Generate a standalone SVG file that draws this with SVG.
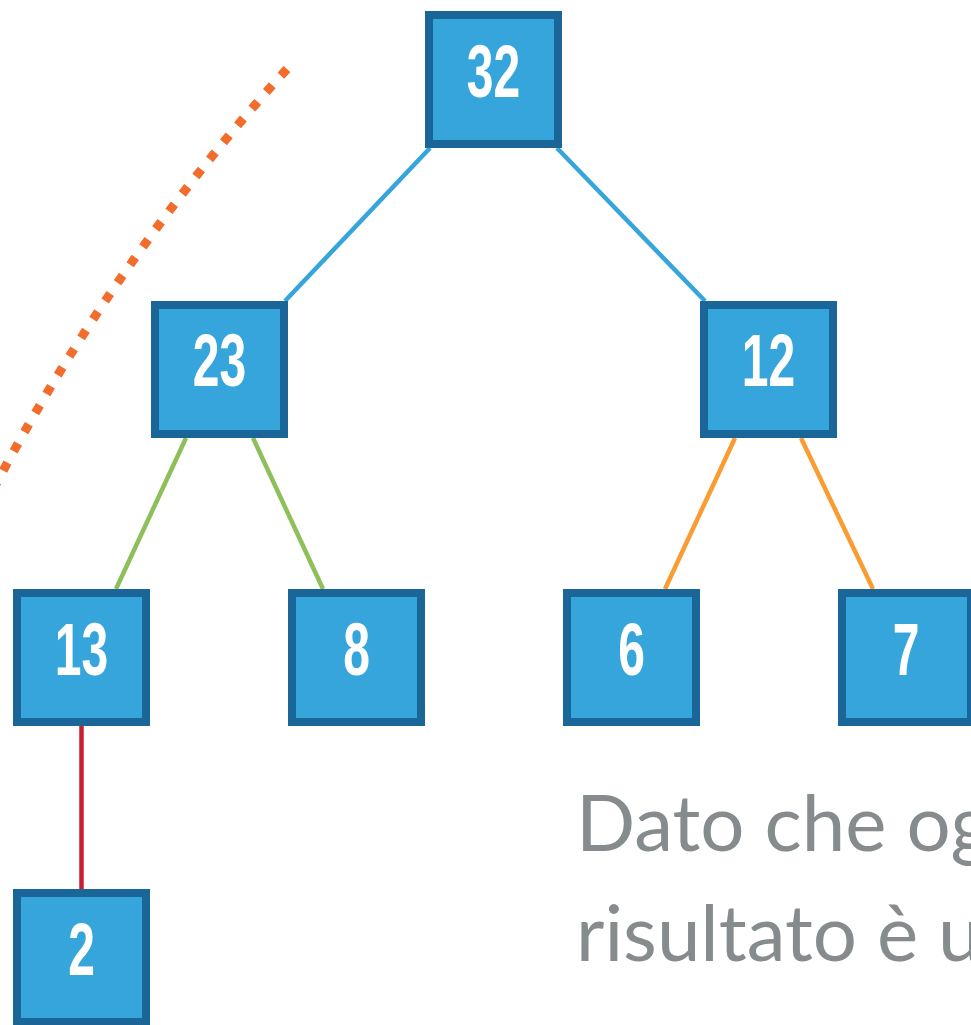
<svg xmlns="http://www.w3.org/2000/svg" width="971" height="1025" viewBox="0 0 971 1025">
  <style>
    .box { fill: #35A5DC; stroke: #1A6699; stroke-width: 8; }
    .num { fill: #FFFFFF; font-family: "Liberation Sans", Arial, sans-serif; font-weight: bold; font-size: 75px; text-anchor: middle; }
    .edge { fill: none; stroke-width: 4.5; }
    .e-blue { stroke: #35A5DC; }
    .e-green { stroke: #8DBF5B; }
    .e-orange { stroke: #F99D33; }
    .e-red { stroke: #C91F32; }
    .cut { fill: none; stroke: #F26C2C; stroke-width: 9; stroke-dasharray: 9 13; }
    .note { fill: #868B8D; font-family: "Lato", "Open Sans", sans-serif; font-size: 78px; }
  </style>

  <rect width="971" height="1025" fill="#FFFFFF"/>

  <!-- dotted cut line -->
  <path class="cut" d="M 287 69 A 2000 2000 0 0 0 -6 488"/>

  <!-- tree edges -->
  <g id="edges">
    <line class="edge e-blue" x1="430" y1="148" x2="285" y2="301"/>
    <line class="edge e-blue" x1="557" y1="148" x2="705" y2="301"/>
    <line class="edge e-green" x1="186" y1="438" x2="116" y2="589"/>
    <line class="edge e-green" x1="253" y1="438" x2="323" y2="589"/>
    <line class="edge e-orange" x1="735" y1="438" x2="665" y2="589"/>
    <line class="edge e-orange" x1="801" y1="438" x2="873" y2="589"/>
    <line class="edge e-red" x1="81.5" y1="726" x2="81.5" y2="889"/>
  </g>

  <!-- nodes -->
  <g id="n32">
    <rect class="box" x="429" y="15" width="129" height="129"/>
    <text class="num" transform="translate(493.5 97) scale(0.64 1)">32</text>
  </g>
  <g id="n23">
    <rect class="box" x="155" y="305" width="129" height="129"/>
    <text class="num" transform="translate(219.5 386) scale(0.64 1)">23</text>
  </g>
  <g id="n12">
    <rect class="box" x="704" y="305" width="129" height="129"/>
    <text class="num" transform="translate(768.5 386) scale(0.64 1)">12</text>
  </g>
  <g id="n13">
    <rect class="box" x="17" y="593" width="129" height="129"/>
    <text class="num" transform="translate(81.5 675) scale(0.64 1)">13</text>
  </g>
  <g id="n8">
    <rect class="box" x="292" y="593" width="129" height="129"/>
    <text class="num" transform="translate(356.5 675) scale(0.64 1)">8</text>
  </g>
  <g id="n6">
    <rect class="box" x="567" y="593" width="129" height="129"/>
    <text class="num" transform="translate(631.5 675) scale(0.64 1)">6</text>
  </g>
  <g id="n7">
    <rect class="box" x="842" y="593" width="129" height="129"/>
    <text class="num" transform="translate(906 675) scale(0.64 1)">7</text>
  </g>
  <g id="n2">
    <rect class="box" x="17" y="893" width="129" height="129"/>
    <text class="num" transform="translate(81.5 975) scale(0.64 1)">2</text>
  </g>

  <!-- caption, running past the right edge -->
  <g id="caption">
    <text class="note" x="576" y="851">Dato che og</text>
    <text class="note" x="576" y="961">risultato è u</text>
  </g>
</svg>
